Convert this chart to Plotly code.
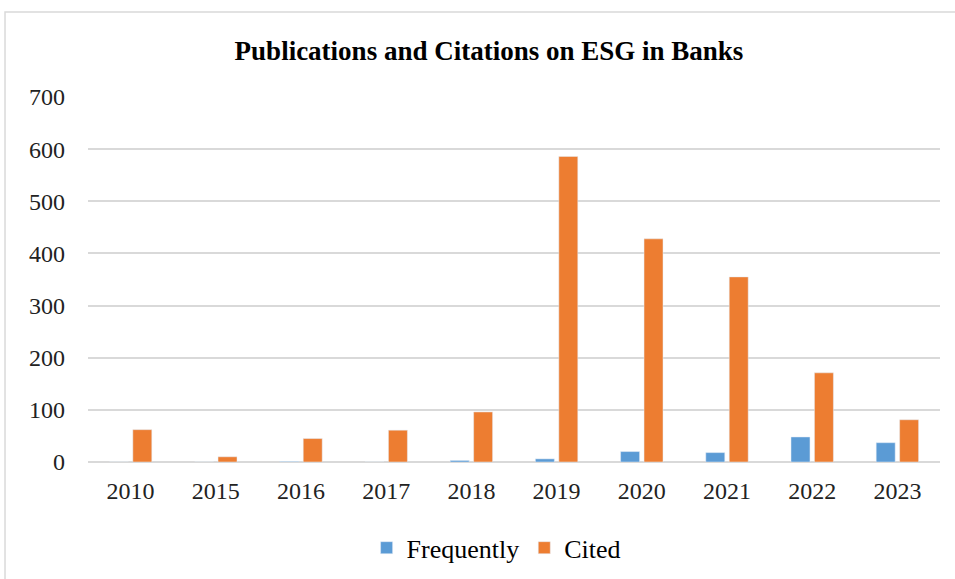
import plotly.graph_objects as go

years = ["2010", "2015", "2016", "2017", "2018", "2019", "2020", "2021", "2022", "2023"]
frequently = [0, 0, 1, 0, 3, 6, 20, 18, 48, 37]
cited = [62, 10, 45, 61, 96, 586, 428, 355, 171, 81]
y_ticks = [0, 100, 200, 300, 400, 500, 600, 700]

FONT = "Liberation Serif"

fig = go.Figure()
fig.add_trace(go.Bar(x=years, y=frequently, name="Frequently", marker=dict(color="#5b9bd5")))
fig.add_trace(go.Bar(x=years, y=cited, name="Cited", marker=dict(color="#ed7d31")))

fig.update_layout(
    width=955, height=579,
    margin=dict(l=88, r=15, t=97, b=117, autoexpand=False),
    paper_bgcolor="white", plot_bgcolor="white",
    barmode="group", bargap=0.45, bargroupgap=0.19,
    title=dict(text="<b>Publications and Citations on ESG in Banks</b>",
               x=0.512, xanchor="center", y=0.913, yanchor="middle",
               font=dict(family=FONT, size=27, color="black")),
    legend=dict(orientation="h", x=0.479, xanchor="center", y=-0.235, yanchor="middle",
                font=dict(family=FONT, size=26, color="black"), itemwidth=30,
                traceorder="normal"),
    font=dict(family=FONT, color="#222"),
    xaxis=dict(showgrid=False, showline=False, zeroline=False, automargin=False,
               tickfont=dict(family=FONT, size=24, color="#222"), ticklabelstandoff=12),
    yaxis=dict(range=[0, 700], tickvals=y_ticks, showgrid=True, gridcolor="#d9d9d9",
               gridwidth=1.5, zeroline=True, zerolinecolor="#d9d9d9", zerolinewidth=1.5,
               showline=False, automargin=False, tickfont=dict(family=FONT, size=24, color="#222"),
               ticklabelstandoff=22),
    shapes=[dict(type="rect", xref="paper", yref="paper", x0=-0.0974, x1=1.1,
                 y0=-0.6, y1=1.2329, line=dict(color="#d9d9d9", width=1.5),
                 fillcolor="rgba(0,0,0,0)", layer="below")],
)

fig.write_html("out.html")
